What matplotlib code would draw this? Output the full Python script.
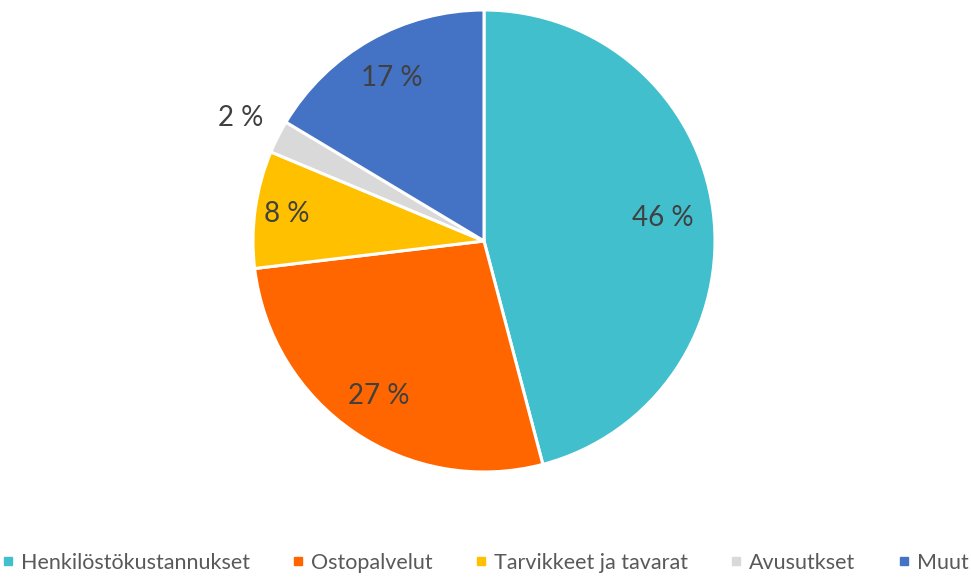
import matplotlib
matplotlib.use("Agg")
import matplotlib.pyplot as plt
from matplotlib.lines import Line2D
import numpy as np

categories = ["Henkilöstökustannukset", "Ostopalvelut", "Tarvikkeet ja tavarat", "Avusutkset", "Muut"]
values = [45.9, 27.2, 8.2, 2.3, 16.4]
labels = ["46 %", "27 %", "8 %", "2 %", "17 %"]
colors = ["#41BFCC", "#FF6600", "#FFC000", "#D9D9D9", "#4472C4"]
label_dist = [0.78, 0.81, 0.86, 1.18, 0.81]

plt.rcParams['font.family'] = ['Lato', 'DejaVu Sans']

W, H = 971, 577
fig = plt.figure(figsize=(W / 100, H / 100), dpi=100)
cx, cy, r = 484, 241, 231
ax = fig.add_axes([(cx - r) / W, (H - cy - r) / H, 2 * r / W, 2 * r / H])
wedges, _ = ax.pie(values, colors=colors, startangle=90, counterclock=False,
                   radius=1.0, wedgeprops=dict(edgecolor="white", linewidth=2.2))
ax.set_xlim(-1, 1)
ax.set_ylim(-1, 1)
ax.set_aspect("equal")
ax.axis("off")

for w, lab, d in zip(wedges, labels, label_dist):
    ang = np.deg2rad((w.theta1 + w.theta2) / 2)
    ax.text(d * np.cos(ang), d * np.sin(ang), lab, ha="center", va="center",
            fontsize=20, color="#404040")

handles = [Line2D([], [], marker="s", linestyle="none", markersize=6,
                  markerfacecolor=c, markeredgecolor=c) for c in colors]
fig.legend(handles, categories, loc="center", bbox_to_anchor=(0.5, 1 - 563 / H),
           ncol=5, frameon=False, fontsize=15.5, handlelength=0.5, handletextpad=0.35,
           columnspacing=2.0, labelcolor="#595959")

fig.savefig("out.png", dpi=100, facecolor="white")
